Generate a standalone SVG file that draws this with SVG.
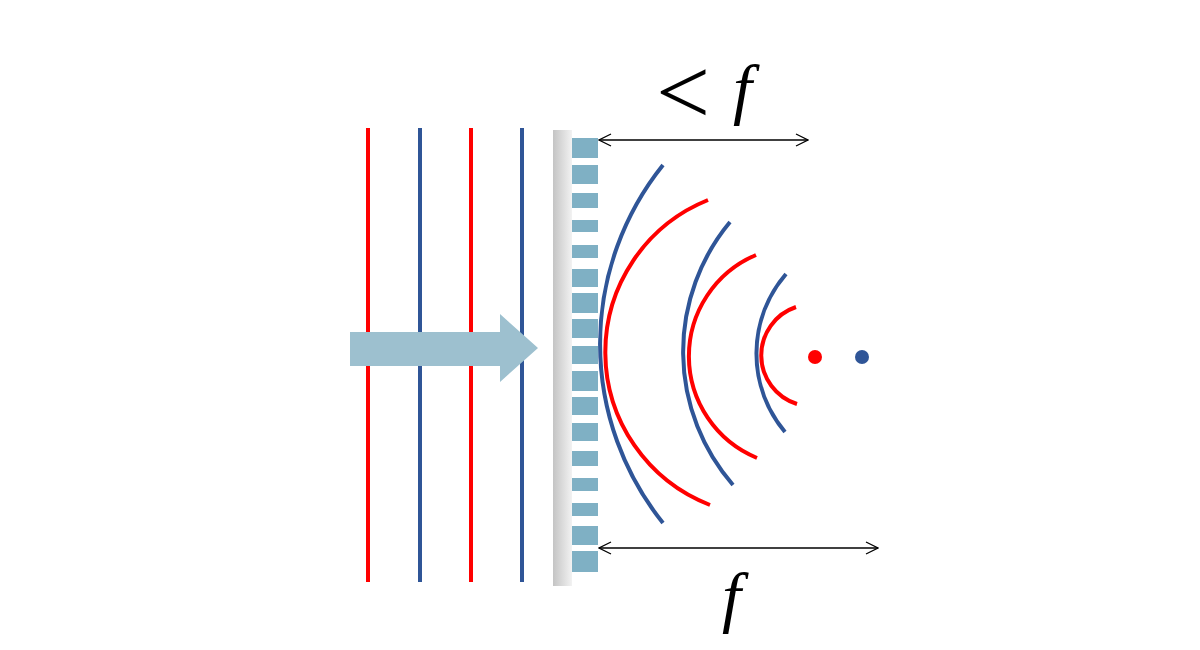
<svg xmlns="http://www.w3.org/2000/svg" width="1200" height="650" viewBox="0 0 1200 650">
<defs>
<linearGradient id="plate" x1="0" x2="1"><stop offset="0" stop-color="#c4c4c4"/><stop offset="1" stop-color="#f2f2f2"/></linearGradient>
<marker id="ah" viewBox="0 0 14 14" refX="13" refY="7" markerWidth="14" markerHeight="14" markerUnits="userSpaceOnUse" orient="auto-start-reverse"><path d="M1,1 L13,7 L1,13" fill="none" stroke="#000" stroke-width="1.3"/></marker>
<style>
.r{stroke:#ff0000;stroke-width:4;fill:none}
.b{stroke:#2f5597;stroke-width:4;fill:none}
.blk{fill:#7fb0c4}
.dim{stroke:#000;stroke-width:1.3;fill:none}
.t{font-family:"Liberation Serif","DejaVu Serif",serif;font-size:68px;fill:#000}
</style>
</defs>
<g id="waves">
<line class="r" x1="368" y1="128" x2="368" y2="582"/>
<line class="b" x1="420" y1="128" x2="420" y2="582"/>
<line class="r" x1="471" y1="128" x2="471" y2="582"/>
<line class="b" x1="522" y1="128" x2="522" y2="582"/>
</g>
<g id="arrow"><path d="M350,332 H500 V314 L538,348 L500,382 V366 H350 Z" fill="#9dc0cf"/></g>
<g id="metasurface">
<rect x="553" y="130" width="19" height="456" fill="url(#plate)"/>
<rect class="blk" x="572" y="138" width="26" height="20"/>
<rect class="blk" x="572" y="165" width="26" height="19"/>
<rect class="blk" x="572" y="193" width="26" height="15"/>
<rect class="blk" x="572" y="220" width="26" height="12"/>
<rect class="blk" x="572" y="245" width="26" height="13"/>
<rect class="blk" x="572" y="269" width="26" height="18"/>
<rect class="blk" x="572" y="293" width="26" height="20"/>
<rect class="blk" x="572" y="319" width="26" height="19"/>
<rect class="blk" x="572" y="346" width="26" height="18" fill="#9dc0cf"/>
<rect class="blk" x="572" y="371" width="26" height="20"/>
<rect class="blk" x="572" y="397" width="26" height="18"/>
<rect class="blk" x="572" y="423" width="26" height="18"/>
<rect class="blk" x="572" y="451" width="26" height="15"/>
<rect class="blk" x="572" y="478" width="26" height="13"/>
<rect class="blk" x="572" y="503" width="26" height="13"/>
<rect class="blk" x="572" y="526" width="26" height="19"/>
<rect class="blk" x="572" y="551" width="26" height="21"/>
</g>
<g id="focused">
<path class="b" d="M663,165 A286,286 0 0 0 663,523"/>
<path class="r" d="M708,200 A164,164 0 0 0 710,505"/>
<path class="b" d="M730,222 A203,203 0 0 0 733,485"/>
<path class="r" d="M756,255 A110,110 0 0 0 757,458"/>
<path class="b" d="M786,274 A122,122 0 0 0 785,432"/>
<path class="r" d="M796,307 A51,51 0 0 0 797,404"/>
<circle cx="815" cy="357" r="7" fill="#ff0000"/>
<circle cx="862" cy="357" r="7" fill="#2f5597"/>
</g>
<g id="connectors">
<line class="dim" x1="599" y1="140" x2="808" y2="140" marker-start="url(#ah)" marker-end="url(#ah)"/>
<line class="dim" x1="599" y1="548" x2="878" y2="548" marker-start="url(#ah)" marker-end="url(#ah)"/>
</g>
<g id="labels">
<text class="t" x="656" y="124" style="font-size:96px">&lt;</text>
<text class="t" x="733" y="112" font-style="italic">f</text>
<text class="t" x="722" y="620" font-style="italic">f</text>
</g>
</svg>
